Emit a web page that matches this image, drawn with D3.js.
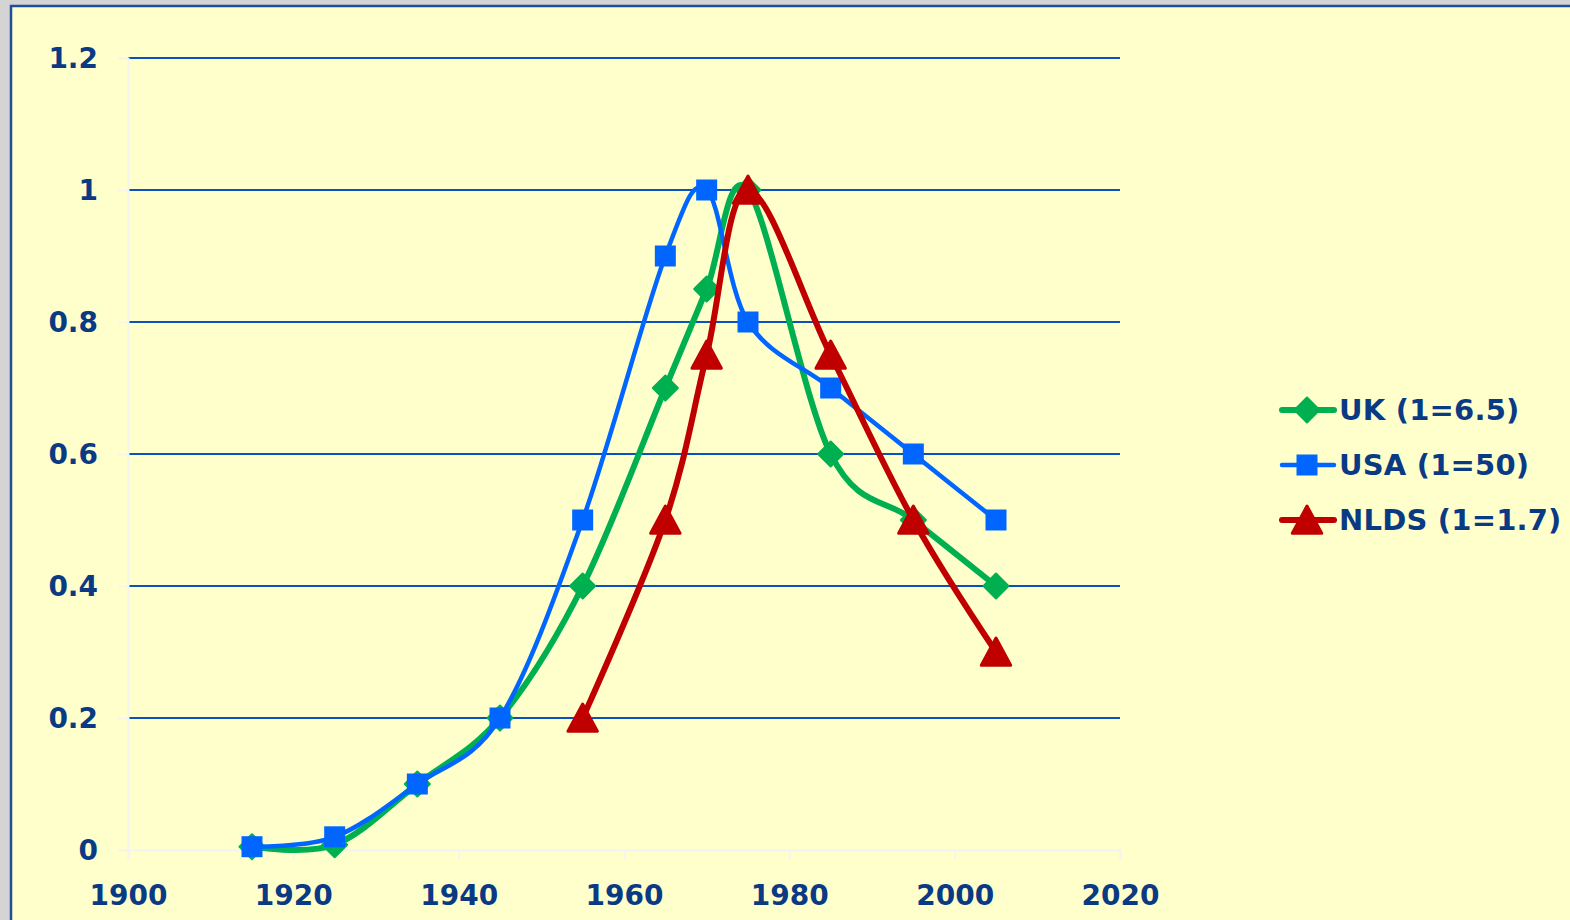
<!DOCTYPE html>
<html><head><meta charset="utf-8">
<script src="https://cdn.jsdelivr.net/npm/d3@7"></script>
<style>html,body{margin:0;padding:0;background:#d4d4d4;overflow:hidden}</style>
</head><body>
<svg id="c" width="1570" height="920"></svg>
<script>
const years = [1915, 1925, 1935, 1945, 1955, 1965, 1970, 1975, 1985, 1995, 2005];
const ukValues = [0.005, 0.008, 0.1, 0.2, 0.4, 0.7, 0.85, 1.0, 0.6, 0.5, 0.4];
const usaValues = [0.005, 0.02, 0.1, 0.2, 0.5, 0.9, 1.0, 0.8, 0.7, 0.6, 0.5];
const nldsYears = [1955, 1965, 1970, 1975, 1985, 1995, 2005];
const nldsValues = [0.2, 0.5, 0.75, 1.0, 0.75, 0.5, 0.3];
const seriesNames = ["UK (1=6.5)", "USA (1=50)", "NLDS (1=1.7)"];
const xTicks = [1900, 1920, 1940, 1960, 1980, 2000, 2020];
const yTicks = [0, 0.2, 0.4, 0.6, 0.8, 1, 1.2];

const svg = d3.select("#c");
const textColor = "#0a3a84";
const font = "'DejaVu Sans', Verdana, sans-serif";

svg.append("rect").attr("x", 11).attr("y", 6).attr("width", 1570).attr("height", 930)
  .attr("fill", "#ffffcc").attr("stroke", "#1f4e9a").attr("stroke-width", 2.5);

const x = d3.scaleLinear().domain([1900, 2020]).range([128, 1120]);
const y = d3.scaleLinear().domain([0, 1.2]).range([850, 58]);

// gridlines
svg.append("g").selectAll("line").data(yTicks.filter(d => d > 0)).join("line")
  .attr("x1", x(1900)).attr("x2", x(2020)).attr("y1", d => y(d)).attr("y2", d => y(d))
  .attr("stroke", "#0a50c0").attr("stroke-width", 2);

// axes
const yAxis = svg.append("g").attr("transform", `translate(${x(1900)},0)`)
  .call(d3.axisLeft(y).tickValues(yTicks).tickSize(10).tickPadding(20).tickFormat(d => d3.format("~g")(d)));
const xAxis = svg.append("g").attr("transform", `translate(0,${y(0)})`)
  .call(d3.axisBottom(x).tickValues(xTicks).tickSize(10).tickPadding(25).tickFormat(d3.format("d")));
[yAxis, xAxis].forEach(a => {
  a.select(".domain").attr("stroke", "#f4f4f0").attr("stroke-width", 2);
  a.selectAll(".tick line").attr("stroke", "#f4f4f0").attr("stroke-width", 2);
  a.selectAll("text").attr("fill", textColor).attr("font-family", font)
    .attr("font-weight", "bold").attr("font-size", 28);
});
yAxis.selectAll("text").attr("dy", "0.35em");
xAxis.selectAll("text").attr("dy", "0.71em");

const curve = d3.curveCatmullRom.alpha(0);
const line = d3.line().x(d => x(d[0])).y(d => y(d[1])).curve(curve);

const ukData = years.map((yr, i) => [yr, ukValues[i]]);
const usaData = years.map((yr, i) => [yr, usaValues[i]]);
const nldsData = nldsYears.map((yr, i) => [yr, nldsValues[i]]);

const colors = ["#00b050", "#0066ff", "#c00000"];
const widths = [6, 4.5, 6];

const diamond = s => `M0,${-s}L${s},0L0,${s}L${-s},0Z`;
const square = s => `M${-s},${-s}H${s}V${s}H${-s}Z`;
const triangle = s => `M0,${-s}L${s*1.05},${s*0.95}H${-s*1.05}Z`;
const markers = [
  {path: diamond(12.5), join: "round", sw: 2},
  {path: square(10.5), join: "miter", sw: 0},
  {path: triangle(14), join: "round", sw: 3}
];
const datasets = [ukData, usaData, nldsData];

datasets.forEach((data, i) => {
  const g = svg.append("g");
  g.append("path").attr("d", line(data)).attr("fill", "none")
    .attr("stroke", colors[i]).attr("stroke-width", widths[i]).attr("stroke-linejoin", "round");
  g.selectAll("path.m").data(data).join("path").attr("class", "m")
    .attr("transform", d => `translate(${x(d[0])},${y(d[1])})`)
    .attr("d", markers[i].path).attr("fill", colors[i])
    .attr("stroke", colors[i]).attr("stroke-width", markers[i].sw).attr("stroke-linejoin", markers[i].join);
});

// legend
const legend = svg.append("g");
seriesNames.forEach((name, i) => {
  const ly = 410 + i * 55;
  const g = legend.append("g").attr("transform", `translate(0,${ly})`);
  g.append("line").attr("x1", 1282).attr("x2", 1334).attr("y1", 0).attr("y2", 0)
    .attr("stroke", colors[i]).attr("stroke-width", widths[i]).attr("stroke-linecap", "round");
  g.append("path").attr("transform", "translate(1307,0)").attr("d", markers[i].path)
    .attr("fill", colors[i]).attr("stroke", colors[i]).attr("stroke-width", markers[i].sw)
    .attr("stroke-linejoin", markers[i].join);
  g.append("text").attr("x", 1339).attr("y", 0).attr("dy", "0.35em").text(name)
    .attr("fill", textColor).attr("font-family", font).attr("font-weight", "bold").attr("font-size", 29)
    .attr("letter-spacing", 0.2);
});
</script>
</body></html>
